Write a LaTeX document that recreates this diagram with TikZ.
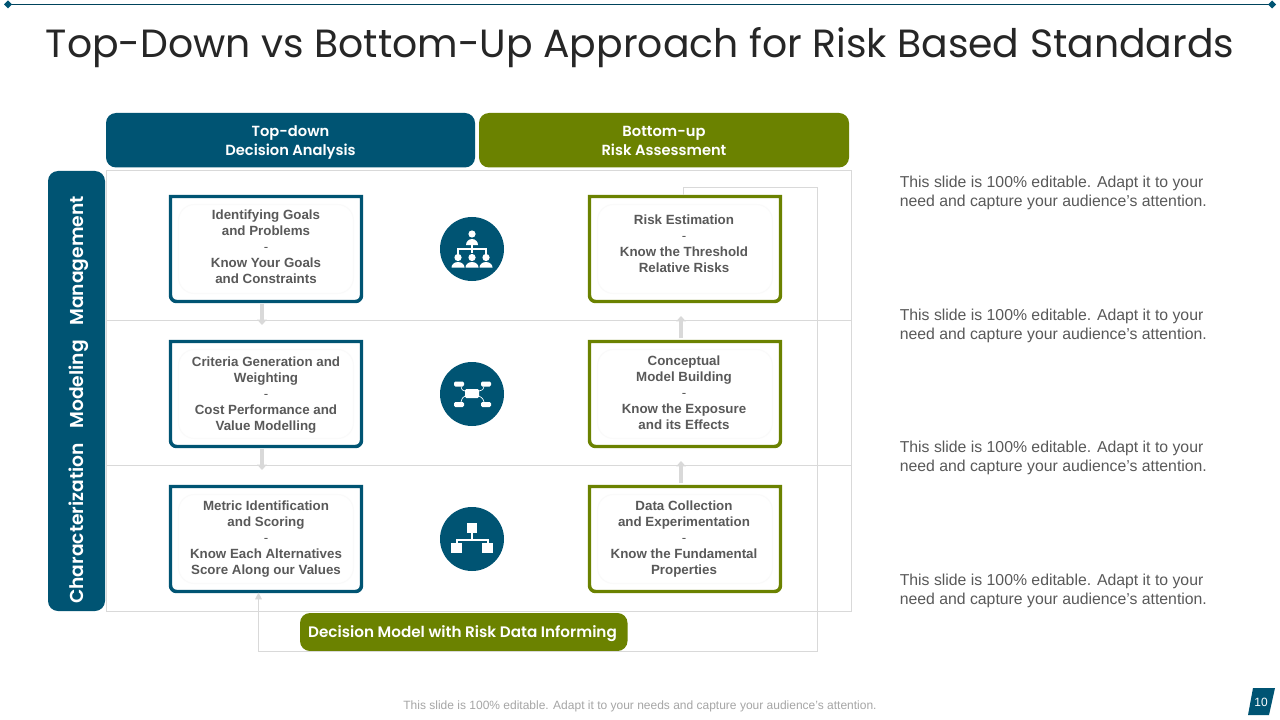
\documentclass[tikz,border=0pt]{standalone}
\usepackage{fontspec}
\setmainfont{Liberation Sans}
\newfontfamily\headfont{Poppins}
\newfontfamily\headbold{Poppins SemiBold}
\usetikzlibrary{arrows.meta}
\definecolor{navy}{HTML}{005473}
\definecolor{olive}{HTML}{6B8200}
\definecolor{txt}{HTML}{595959}
\definecolor{grid}{HTML}{D9D9D9}
\definecolor{inner}{HTML}{FAFAFA}
\tikzset{
  x=0.75pt,y=-0.75pt,
  band/.style={fill=#1,draw=none,rounded corners=7.5pt},
  bandtext/.style={text=white,align=center,font=\headbold\fontsize{11}{14.2}\selectfont},
  boxtext/.style={text=txt,align=center,font=\bfseries\fontsize{10}{12}\selectfont},
  sidetext/.style={text=txt,align=left,anchor=west,inner sep=0pt,font=\fontsize{11.85}{14.25}\selectfont},
  holder/.style={minimum width=144pt,minimum height=80pt,inner sep=0pt,draw=none},
  gridline/.style={draw=grid,line width=0.75pt},
  thin loop/.style={draw=grid,line width=0.75pt},
  feed/.style={draw=grid,line width=2.6pt,-{Triangle[length=4pt,width=7pt]}},
  icon/.style={fill=navy,draw=none},
  iconw/.style={fill=white,draw=none},
  iconl/.style={draw=white,line width=1.5pt},
}
\newcommand{\dsh}{{\mdseries -}}
\newcommand{\riskbox}[7]{% name, colour, xleft, ytop, ytext, text x, text
  \draw[#2,line width=2.6pt,line join=miter]
    (#3,#4) -- (#3+191,#4) -- (#3+191,#4+99) arc[start angle=0,end angle=90,radius=6]
    -- (#3+6,#4+105) arc[start angle=90,end angle=180,radius=6] -- cycle;
  \draw[inner,line width=0.8pt,rounded corners=12pt] (#3+8,#4+8) rectangle (#3+183,#4+97);
  \node[holder] (#1) at (#3+95.5,#4+52.5) {};
  \node[boxtext] (#1t) at (#6,#5) {#7};
}
\begin{document}
\begin{tikzpicture}
\useasboundingbox[fill=white] (0,0) rectangle (1280,720);
% top rule
\coordinate (ruleL) at (8,4.5);
\coordinate (ruleR) at (1272,4.5);
\draw[navy!80!black,line width=0.8pt] (ruleL) -- (ruleR);
\fill[navy] (4,4.5) -- (8,0.5) -- (12,4.5) -- (8,8.5) -- cycle;
\fill[navy] (1268,4.5) -- (1272,0.5) -- (1276,4.5) -- (1272,8.5) -- cycle;
% title
\node[text=black!85,font=\headfont\fontsize{29.5}{36}\selectfont,inner sep=0pt] (title) at (640,48) {Top-Down vs Bottom-Up Approach for Risk Based Standards};
% grid
\draw[gridline] (106,171) rectangle (851,611);
\draw[gridline] (106,320) -- (851,320);
\draw[gridline] (106,465) -- (851,465);
% headers
\fill[band=navy] (106,113) rectangle (475,167.5);
\node[bandtext] (hA) at (290.5,142.5) {Top-down\\Decision Analysis};
\fill[band=olive] (479,113) rectangle (849,167.5);
\node[bandtext] (hB) at (664,141) {Bottom-up\\Risk Assessment};
% side bar
\fill[band=navy] (48,171) rectangle (105,611);
\node[rotate=90,text=white,font=\headbold\fontsize{14}{18}\selectfont,inner sep=0pt] (side) at (78.5,400) {Characterization\hspace{11pt}Modeling\hspace{11pt}Management};
% boxes
\riskbox{a}{navy}{170.5}{196.5}{247}{266}{Identifying Goals\\and Problems\\\dsh\\Know Your Goals\\and Constraints}
\riskbox{b}{navy}{170.5}{341.5}{395}{266}{Criteria Generation and\\Weighting\\\dsh\\Cost Performance and\\Value Modelling}
\riskbox{c}{navy}{170.5}{486.5}{539}{266}{Metric Identification\\and Scoring\\\dsh\\Know Each Alternatives\\Score Along our Values}
\riskbox{d}{olive}{589.5}{196.5}{244}{684}{Risk Estimation\\\dsh\\Know the Threshold\\Relative Risks}
\riskbox{e}{olive}{589.5}{341.5}{393}{684}{Conceptual\\Model Building\\\dsh\\Know the Exposure\\and its Effects}
\riskbox{f}{olive}{589.5}{486.5}{539}{684}{Data Collection\\and Experimentation\\\dsh\\Know the Fundamental\\Properties}
% short connectors
\coordinate (ab) at (262,325);
\coordinate (bc) at (262,470);
\coordinate (ed) at (681,316);
\coordinate (fe) at (681,461);
\draw[feed] (ab |- a.south) ++(0,1) -- (ab);
\draw[feed] (bc |- b.south) ++(0,1) -- (bc);
\draw[feed] (ed |- e.north) ++(0,-2) -- (ed);
\draw[feed] (fe |- f.north) ++(0,-2) -- (fe);
% bottom band
\fill[band=olive] (300,613) rectangle (627.5,651);
\node[text=white,font=\headbold\fontsize{11.4}{14}\selectfont,inner sep=0pt] (dm) at (462.5,633.5) {Decision Model with Risk Data Informing};
% feedback loop
\coordinate (l1) at (683.5,187.5);
\coordinate (l2) at (817.5,187.5);
\coordinate (l3) at (817.5,651.5);
\coordinate (l4) at (258.5,651.5);
\draw[thin loop,-{Triangle[length=5pt,width=5pt]}] (d.north -| l1) -- (l1) -- (l2) -- (l3) -- (l4) -- (l4 |- c.south);
% icon 1
\fill[icon] (472,249) circle (32);
\fill[iconw] (472,234) circle (3.6);
\fill[iconw] (466,245) arc[start angle=180,end angle=360,radius=6] -- cycle;
\draw[iconl] (472,245) -- (472,253);
\draw[iconl] (458,254) -- (458,249) -- (486,249) -- (486,254);
\foreach \px in {458,472,486}{
  \fill[iconw] (\px,257.5) circle (3.6);
  \fill[iconw] (\px-6.5,267.5) arc[start angle=180,end angle=360,x radius=6.5,y radius=5.5] -- cycle;
}
% icon 2
\fill[icon] (472,394) circle (32);
\fill[iconw,rounded corners=1pt] (465,389) rectangle (479,398);
\fill[iconw,rounded corners=1pt] (454,381.5) rectangle (464,386.5);
\fill[iconw,rounded corners=1pt] (481,381.5) rectangle (491,386.5);
\fill[iconw,rounded corners=1pt] (454,402) rectangle (464,407);
\fill[iconw,rounded corners=1pt] (481,402) rectangle (491,407);
\draw[white,line width=0.5pt] (461,386.5) .. controls (462,391) and (463,390) .. (465,391);
\draw[white,line width=0.5pt] (484,386.5) .. controls (483,391) and (481,390) .. (479,391);
\draw[white,line width=0.5pt] (461,402) .. controls (462,398) and (463,397) .. (465,396);
\draw[white,line width=0.5pt] (484,402) .. controls (483,398) and (481,397) .. (479,396);
% icon 3
\fill[icon] (472,539) circle (32);
\fill[iconw] (467,523) rectangle (477,533);
\fill[iconw] (451,543) rectangle (462,553);
\fill[iconw] (482,543) rectangle (493,553);
\draw[iconl] (472,533) -- (472,540);
\draw[iconl] (456.5,543) -- (456.5,540) -- (487.5,540) -- (487.5,543);
% right notes
\node[sidetext] (n1) at (899.5,193) {This slide is 100\% editable. Adapt it to your\\need and capture your audience’s attention.};
\node[sidetext] (n2) at (899.5,325.5) {This slide is 100\% editable. Adapt it to your\\need and capture your audience’s attention.};
\node[sidetext] (n3) at (899.5,458) {This slide is 100\% editable. Adapt it to your\\need and capture your audience’s attention.};
\node[sidetext] (n4) at (899.5,591) {This slide is 100\% editable. Adapt it to your\\need and capture your audience’s attention.};
% footer
\node[text=black!35,font=\fontsize{9}{11}\selectfont,inner sep=0pt] (foot) at (640,706.5) {This slide is 100\% editable. Adapt it to your needs and capture your audience's attention.};
\fill[navy] (1248,715) -- (1253,688) -- (1275,688) -- (1269,715) -- cycle;
\node[text=white,font=\fontsize{9}{11}\selectfont,inner sep=0pt] (pg) at (1261,702) {10};
\end{tikzpicture}
\end{document}
